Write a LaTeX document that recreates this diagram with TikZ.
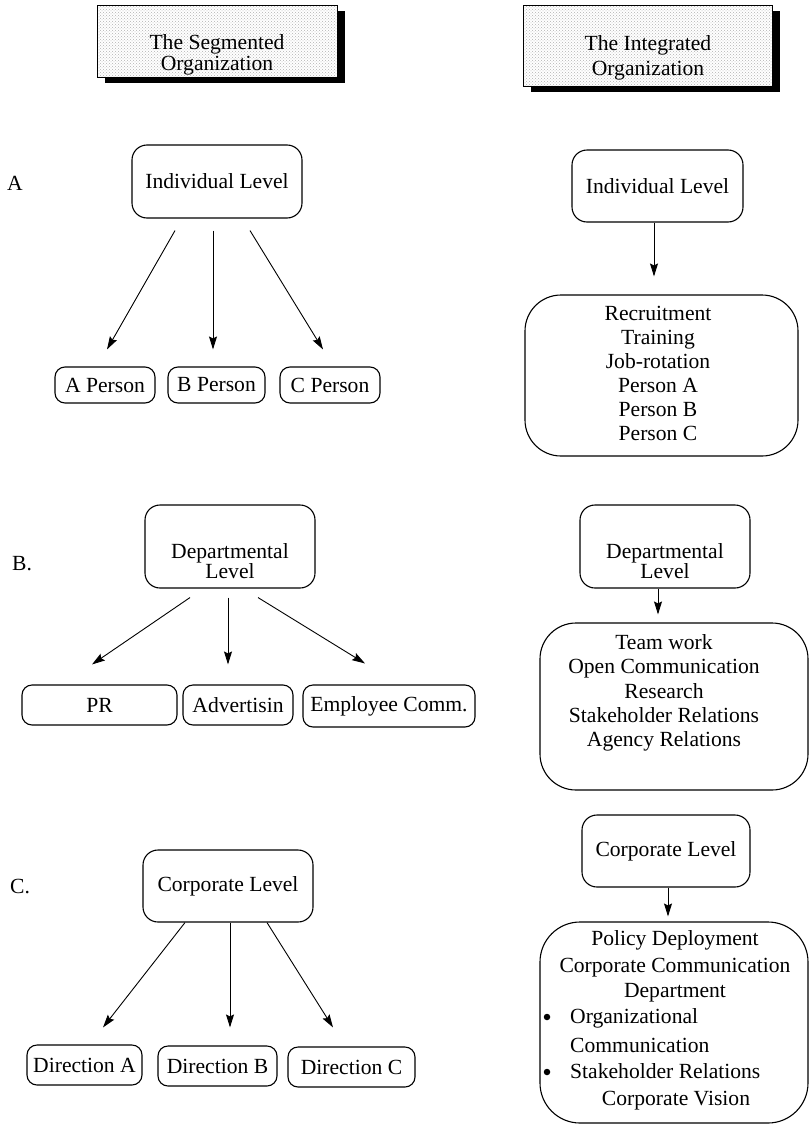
\documentclass[tikz,border=0pt]{standalone}
\usepackage{fontspec}
\setmainfont{Liberation Serif}
\usetikzlibrary{arrows.meta,patterns,shadows}
\begin{document}
\begin{tikzpicture}[x=1pt,y=-1pt,
 every node/.style={font=\fontsize{21.6}{24}\selectfont, inner sep=0pt},
 lbox/.style={draw, line width=1.1pt, rounded corners=15pt},
 sbox/.style={draw, line width=1.1pt, rounded corners=10pt},
 bbox/.style={draw, line width=1.1pt, rounded corners=36pt},
 hdr/.style={draw, line width=1pt, drop shadow={shadow xshift=8pt, shadow yshift=-6pt, fill=black, opacity=1}, preaction={fill=white}, pattern=crosshatch dots, pattern color=black!30},
 arr/.style={line width=0.9pt, -{Stealth[length=13pt,width=8pt,inset=2pt]}},
 ln/.style={anchor=base},
 bul/.style={circle, fill=black, minimum size=6.5pt},
]
\useasboundingbox (0,0) rectangle (809,1127);

% headers
\node[hdr, minimum width=240pt, minimum height=72pt] (hL) at (217,41) {};
\node[ln] (hL1) at (217,49) {The Segmented};
\node[ln] (hL2) at (217,70) {Organization};
\node[hdr, minimum width=249pt, minimum height=81pt] (hR) at (647.5,45.5) {};
\node[ln] (hR1) at (648,50) {The Integrated};
\node[ln] (hR2) at (648,75) {Organization};

% row labels
\node[anchor=base west] (lA) at (7,190) {A};
\node[anchor=base west] (lB) at (12,570) {B.};
\node[anchor=base west] (lC) at (10,893) {C.};

% ---- left column, row A
\node[lbox, minimum width=170pt, minimum height=73pt] (indA) at (217,181.5) {Individual Level};
\node[sbox, minimum width=100pt, minimum height=36pt] (pA) at (105,385) {A Person};
\node[sbox, minimum width=97pt, minimum height=36pt] (pB) at (216.5,385) {B Person};
\node[sbox, minimum width=100pt, minimum height=36pt] (pC) at (330,385) {C Person};
\draw[arr] ([xshift=-42pt,yshift=-12pt]indA.south) -- ([xshift=2pt,yshift=17pt]pA.north);
\draw[arr] ([xshift=-4pt,yshift=-12pt]indA.south) -- ([xshift=-3.5pt,yshift=17pt]pB.north);
\draw[arr] ([xshift=33pt,yshift=-12pt]indA.south) -- ([xshift=-7pt,yshift=17pt]pC.north);

% ---- left column, row B
\node[lbox, minimum width=170pt, minimum height=83pt] (depA) at (230,546.5) {};
\node[ln] (depA1) at (230,558) {Departmental};
\node[ln] (depA2) at (230,578) {Level};
\node[sbox, minimum width=155pt, minimum height=40pt] (pr) at (99.5,705) {PR};
\node[sbox, minimum width=110pt, minimum height=40pt] (adv) at (238,705) {Advertisin};
\node[sbox, minimum width=172pt, minimum height=42pt] (emp) at (389,706) {Employee Comm.};
\draw[arr] ([xshift=-40pt,yshift=-9pt]depA.south) -- ([xshift=-7.5pt,yshift=20pt]pr.north);
\draw[arr] ([xshift=-2pt,yshift=-9pt]depA.south) -- ([xshift=-10pt,yshift=20pt]adv.north);
\draw[arr] ([xshift=28pt,yshift=-9pt]depA.south) -- ([xshift=-24pt,yshift=21pt]emp.north);

% ---- left column, row C
\node[lbox, minimum width=170pt, minimum height=72pt] (corpA) at (228,886) {Corporate Level};
\node[sbox, minimum width=115pt, minimum height=40pt] (dA) at (84.5,1065) {Direction A};
\node[sbox, minimum width=119pt, minimum height=40pt] (dB) at (217.5,1066) {Direction B};
\node[sbox, minimum width=127pt, minimum height=40pt] (dC) at (351.5,1067) {Direction C};
\draw[arr] ([xshift=-43pt]corpA.south) -- ([xshift=18.5pt,yshift=17pt]dA.north);
\draw[arr] ([xshift=2pt]corpA.south) -- ([xshift=12.5pt,yshift=18pt]dB.north);
\draw[arr] ([xshift=39pt]corpA.south) -- ([xshift=-18.5pt,yshift=19pt]dC.north);

% ---- right column, row A
\node[lbox, minimum width=171pt, minimum height=72pt] (indB) at (657.5,186) {Individual Level};
\node[bbox, minimum width=273pt, minimum height=161pt] (bigA) at (661.5,375.5) {};
\node[ln] (a1) at (658,320) {Recruitment};
\node[ln] (a2) at (658,344) {Training};
\node[ln] (a3) at (658,368) {Job-rotation};
\node[ln] (a4) at (658,392) {Person A};
\node[ln] (a5) at (658,416) {Person B};
\node[ln] (a6) at (658,440) {Person C};
\coordinate (tA) at ([yshift=18pt]bigA.north);
\draw[arr] ([xshift=-3.5pt]indB.south) -- ([xshift=-3.5pt]indB.south |- tA);

% ---- right column, row B
\node[lbox, minimum width=170pt, minimum height=83pt] (depB) at (665,546.5) {};
\node[ln] (depB1) at (665,558) {Departmental};
\node[ln] (depB2) at (665,578) {Level};
\node[bbox, minimum width=268pt, minimum height=167pt] (bigB) at (674,706.5) {};
\node[ln] (b1) at (664,649) {Team work};
\node[ln] (b2) at (664,673) {Open Communication};
\node[ln] (b3) at (664,698) {Research};
\node[ln] (b4) at (664,722) {Stakeholder Relations};
\node[ln] (b5) at (664,746) {Agency Relations};
\coordinate (tB) at ([yshift=8pt]bigB.north);
\draw[arr] ([xshift=-7pt]depB.south) -- ([xshift=-7pt]depB.south |- tB);

% ---- right column, row C
\node[lbox, minimum width=168pt, minimum height=72pt] (corpB) at (666,851) {Corporate Level};
\node[bbox, rounded corners=40pt, minimum width=268pt, minimum height=201pt] (bigC) at (674,1022.5) {};
\node[ln] (c1) at (675,945) {Policy Deployment};
\node[ln] (c2) at (675,972) {Corporate Communication};
\node[ln] (c3) at (675,997) {Department};
\node[bul] (bu1) at (547,1017) {};
\node[anchor=base west] (c4) at (570,1023) {Organizational};
\node[anchor=base west] (c5) at (570,1052) {Communication};
\node[bul] (bu2) at (547,1072) {};
\node[anchor=base west] (c6) at (570,1078) {Stakeholder Relations};
\node[ln] (c7) at (676,1105) {Corporate Vision};
\coordinate (tC) at ([yshift=5pt]bigC.north);
\draw[arr] ([xshift=2pt]corpB.south) -- ([xshift=2pt]corpB.south |- tC);
\end{tikzpicture}
\end{document}
